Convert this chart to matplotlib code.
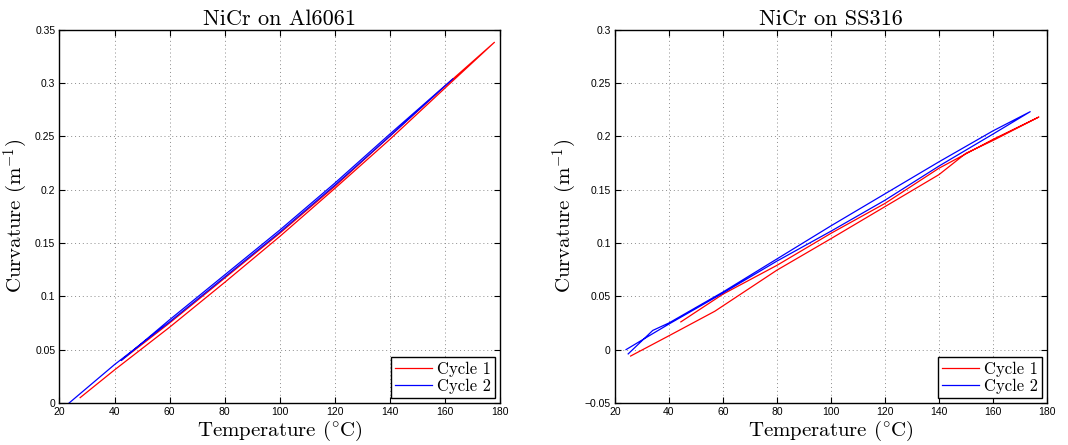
import matplotlib
matplotlib.use("Agg")
import matplotlib.pyplot as plt

plt.rcParams['mathtext.fontset'] = 'cm'

# ---------------- data ----------------
# NiCr on Al6061
al_c1_T = [27.5, 40, 60, 80, 100, 120, 140, 160, 178,
           160, 140, 120, 100, 80, 60, 42.5]
al_c1_K = [0.005, 0.031, 0.071, 0.113, 0.156, 0.201, 0.247, 0.295, 0.338,
           0.297, 0.250, 0.203, 0.159, 0.117, 0.075, 0.040]
al_c2_T = [23.5, 40, 60, 80, 100, 120, 140, 163,
           140, 120, 100, 80, 60, 42.5]
al_c2_K = [0.0, 0.036, 0.076, 0.118, 0.160, 0.204, 0.250, 0.304,
           0.252, 0.206, 0.162, 0.120, 0.078, 0.040]

# NiCr on SS316
ss_c1_T = [25.8, 40, 57, 80, 100, 120, 140, 150, 160, 177,
           160, 140, 120, 100, 80, 60, 44.4]
ss_c1_K = [-0.006, 0.013, 0.036, 0.0745, 0.104, 0.134, 0.164, 0.184, 0.196, 0.218,
           0.197, 0.170, 0.137, 0.109, 0.079, 0.052, 0.026]
ss_c2_T = [24.9, 34, 40, 60, 80, 100, 120, 140, 160, 173.8,
           160, 140, 120, 100, 80, 60, 40, 34, 24.1]
ss_c2_K = [-0.004, 0.018, 0.025, 0.054, 0.085, 0.116, 0.146, 0.176, 0.205, 0.223,
           0.202, 0.172, 0.140, 0.111, 0.083, 0.053, 0.024, 0.015, 0.0]

x_ticks = [20, 40, 60, 80, 100, 120, 140, 160, 180]
x_labels = ['20', '40', '60', '80', '100', '120', '140', '160', '180']
al_y_ticks = [0, 0.05, 0.1, 0.15, 0.2, 0.25, 0.3, 0.35]
al_y_labels = ['0', '0.05', '0.1', '0.15', '0.2', '0.25', '0.3', '0.35']
ss_y_ticks = [-0.05, 0, 0.05, 0.1, 0.15, 0.2, 0.25, 0.3]
ss_y_labels = ['\u22120.05', '0', '0.05', '0.1', '0.15', '0.2', '0.25', '0.3']

titles = ['NiCr on Al6061', 'NiCr on SS316']
series_labels = ['Cycle 1', 'Cycle 2']

# ---------------- figure ----------------
fig = plt.figure(figsize=(10.68, 4.45), dpi=100)
ax1 = fig.add_axes([0.0557, 0.0944, 0.4124, 0.8393])
ax2 = fig.add_axes([0.5758, 0.0944, 0.4045, 0.8393])

serif = 'cmr10'
tick_font = 'Liberation Sans'


def style(ax, yticks, ylabels, ylim, title):
    ax.set_xlim(20, 180)
    ax.set_ylim(*ylim)
    ax.set_xticks(x_ticks)
    ax.set_xticklabels(x_labels, fontfamily=tick_font, fontsize=7.5)
    ax.set_yticks(yticks)
    ax.set_yticklabels(ylabels, fontfamily=tick_font, fontsize=7.5)
    ax.tick_params(direction='in', length=4, width=0.8, top=True, right=True,
                   pad=3, colors='black')
    ax.grid(True, linestyle=(0, (1, 3)), color='0.55', linewidth=0.7)
    for s in ax.spines.values():
        s.set_linewidth(1.0)
        s.set_color('black')
    ax.set_title(title, fontfamily=serif, fontsize=16, pad=3)
    ax.set_xlabel(r'Temperature ($^{\circ}$C)', fontfamily=serif, fontsize=15, labelpad=1)
    ax.set_ylabel(r'Curvature (m$^{-1}$)', fontfamily=serif, fontsize=15, labelpad=4)
    leg = ax.legend(loc='lower right', prop={'family': serif, 'size': 12},
                    fancybox=False, edgecolor='black', framealpha=1,
                    borderaxespad=0.3, handlelength=2.2, handletextpad=0.3,
                    labelspacing=0.1, borderpad=0.25)
    leg.get_frame().set_linewidth(1.0)


ax1.plot(al_c1_T, al_c1_K, color='#ff0000', lw=0.9, label=series_labels[0])
ax1.plot(al_c2_T, al_c2_K, color='#0000ff', lw=0.9, label=series_labels[1])
style(ax1, al_y_ticks, al_y_labels, (0, 0.35), titles[0])

ax2.plot(ss_c1_T, ss_c1_K, color='#ff0000', lw=0.9, label=series_labels[0])
ax2.plot(ss_c2_T, ss_c2_K, color='#0000ff', lw=0.9, label=series_labels[1])
style(ax2, ss_y_ticks, ss_y_labels, (-0.05, 0.3), titles[1])

fig.savefig('out.png', dpi=100)
